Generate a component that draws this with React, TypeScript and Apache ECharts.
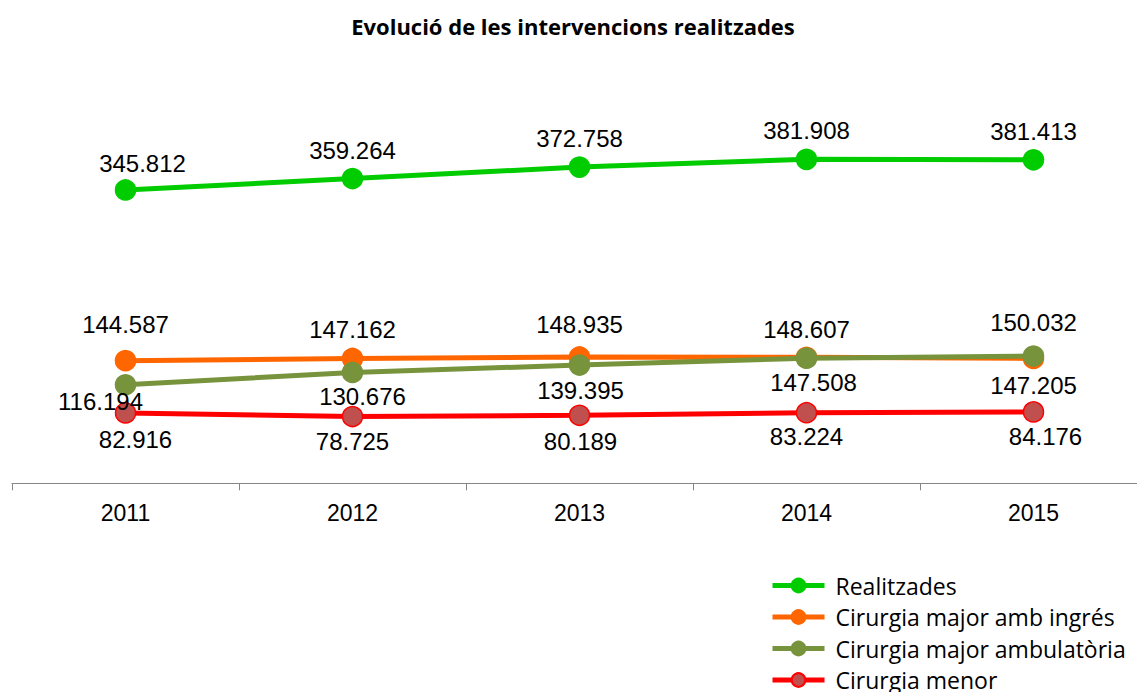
import React, { useEffect, useRef } from "react";
import * as echarts from "echarts";

const years = ["2011", "2012", "2013", "2014", "2015"];
const realitzades = [345812, 359264, 372758, 381908, 381413];
const ambIngres = [144587, 147162, 148935, 148607, 147205];
const ambulatoria = [116194, 130676, 139395, 147508, 150032];
const menor = [82916, 78725, 80189, 83224, 84176];

const seriesNames = [
  "Realitzades",
  "Cirurgia major amb ingrés",
  "Cirurgia major ambulatòria",
  "Cirurgia menor",
];

// label placement tweaks: [position, dx, dy]
const realLabels: [string, number, number][] = [
  ["top", 17, 1], ["top", 0, 0], ["top", 0, -1], ["top", 0, -1], ["top", 0, -1],
];
const ingresLabels: [string, number, number][] = [
  ["top", 0, -8.5], ["top", 0, -1.5], ["top", 0, -4.5], ["top", 0, 0], ["bottom", 0, -1],
];
const ambLabels: [string, number, number][] = [
  ["bottom", -25, -11], ["bottom", 10, -4], ["bottom", 1, -2], ["bottom", 7, -3.5], ["top", 0, -5.5],
];
const menorLabels: [string, number, number][] = [
  ["bottom", 10, -1.5], ["bottom", 0, -3], ["bottom", 1, -2], ["bottom", 0, -3.5], ["bottom", 12, -3.5],
];

const fmt = (v: number) => {
  const s = String(v);
  return s.length > 3 ? s.slice(0, s.length - 3) + "." + s.slice(s.length - 3) : s;
};

export default function App() {
  const ref = useRef<HTMLDivElement>(null);
  useEffect(() => {
    if (!ref.current) return;
    const chart = echarts.init(ref.current, null, { renderer: "svg" });
    const mk = (
      name: string,
      values: number[],
      labels: [string, number, number][],
      color: string,
      markerFill: string,
      markerBorder: string,
      z: number
    ) => ({
      name,
      type: "line",
      z,
      data: values.map((v, i) => ({
        value: v,
        label: { position: labels[i][0], offset: [labels[i][1], labels[i][2]] },
      })),
      symbol: "circle",
      symbolSize: 20,
      lineStyle: { color, width: 5 },
      itemStyle: { color: markerFill, borderColor: markerBorder, borderWidth: 1.5 },
      label: {
        show: true,
        formatter: (p: any) => fmt(p.value),
        fontFamily: "Liberation Sans, Arial, sans-serif",
        fontSize: 24,
        color: "#000",
      },
      emphasis: { disabled: true },
    });
    chart.setOption({
      animation: false,
      backgroundColor: "#fff",
      title: {
        text: "Evolució de les intervencions realitzades",
        left: 568,
        textAlign: "center",
        top: 10,
        textStyle: {
          fontFamily: "Open Sans, sans-serif",
          fontWeight: "bold",
          fontSize: 22,
          color: "#000",
        },
      },
      legend: {
        orient: "vertical",
        left: 765,
        top: 569,
        itemWidth: 52,
        itemHeight: 17,
        itemGap: 8.5,
        data: seriesNames,
        lineStyle: { width: 5 },
        textStyle: {
          fontFamily: "Open Sans, sans-serif",
          fontSize: 23,
          color: "#000",
          padding: [0, 0, 0, 6],
        },
      },
      grid: { left: 12, top: 144, height: 339.3, width: 1135 },
      xAxis: {
        type: "category",
        data: years,
        boundaryGap: true,
        axisLine: { lineStyle: { color: "#868686", width: 1 } },
        axisTick: { show: true, length: 7, lineStyle: { color: "#868686" } },
        axisLabel: {
          fontFamily: "Liberation Sans, Arial, sans-serif",
          fontSize: 23,
          color: "#000",
          margin: 18,
        },
      },
      yAxis: {
        type: "value",
        min: 0,
        max: 400000,
        show: false,
        splitLine: { show: false },
      },
      series: [
        mk(seriesNames[0], realitzades, realLabels, "#00CC00", "#00CC00", "#00CC00", 4),
        mk(seriesNames[1], ambIngres, ingresLabels, "#FF6600", "#FF6600", "#FF6600", 2),
        mk(seriesNames[2], ambulatoria, ambLabels, "#77933C", "#77933C", "#77933C", 3),
        mk(seriesNames[3], menor, menorLabels, "#FF0000", "#C0504D", "#FF0000", 1),
      ],
    });
    return () => chart.dispose();
  }, []);
  return (
    <div
      style={{
        position: "fixed",
        left: 0,
        top: 0,
        width: 1137,
        height: 692,
        overflow: "hidden",
        background: "#fff",
      }}
    >
      <div ref={ref} style={{ width: 1160, height: 740 }} />
    </div>
  );
}
